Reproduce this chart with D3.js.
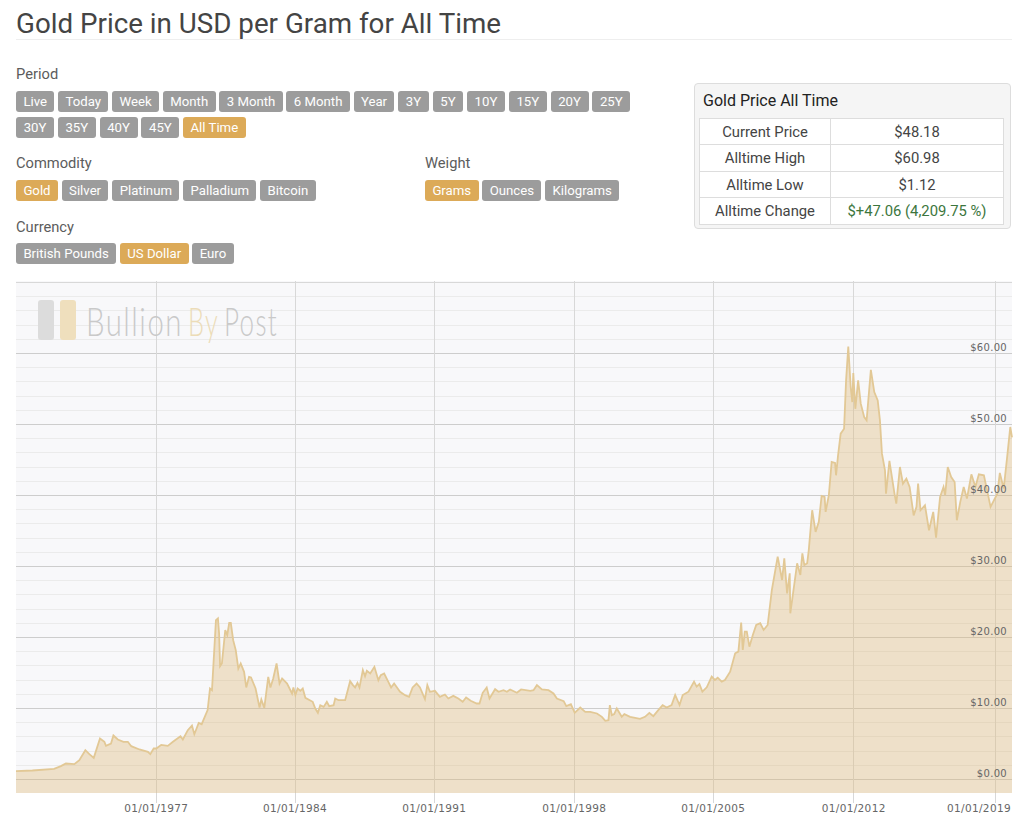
<!DOCTYPE html>
<html>
<head>
<meta charset="utf-8">
<script src="https://cdn.jsdelivr.net/npm/d3@7"></script>
<style>
  html, body { margin: 0; padding: 0; background: #fff; overflow: hidden; }
  body { width: 1024px; height: 819px; position: relative; font-family: Roboto, sans-serif; color: #555; }
  h1 { position: absolute; left: 16px; top: 7px; margin: 0; font-size: 27.75px; font-weight: 400; line-height: 34px; color: #444; }
  .rule { position: absolute; left: 16px; top: 39px; width: 996px; height: 1px; background: #eee; }
  .label { position: absolute; font-size: 14.7px; line-height: 18px; color: #5c5c5c; }
  .group { position: absolute; display: flex; flex-wrap: wrap; gap: 4.6px 3.75px; }
  .btn { height: 21px; line-height: 21px; padding: 0 7.4px; font-size: 13.2px; color: #fff; background: #9c9c9c; border-radius: 3px; white-space: nowrap; }
  .btn.yr { padding: 0 7.65px; }
  .btn.on { background: #dcaa58; }
  .panel { position: absolute; left: 694px; top: 83px; width: 315px; height: 144px; background: #f5f5f5; border: 1px solid #ddd; border-radius: 4px; }
  .panel h3 { position: absolute; left: 8px; top: 7px; margin: 0; font-size: 16px; font-weight: 400; line-height: 20px; color: #222; }
  table { position: absolute; left: 4px; top: 34px; width: 305px; border-collapse: collapse; background: #fff; font-size: 14.8px; color: #444; table-layout: fixed; }
  td { border: 1px solid #ddd; text-align: center; padding: 0; }
  td:first-child { width: 130px; }
  .up { color: #3c763d; }
  #chart { position: absolute; left: 0; top: 0; }
</style>
</head>
<body>
<script>
const titleText = 'Gold Price in USD per Gram for All Time';
const periods = ['Live', 'Today', 'Week', 'Month', '3 Month', '6 Month', 'Year', '3Y', '5Y', '10Y', '15Y', '20Y', '25Y', '30Y', '35Y', '40Y', '45Y', 'All Time'];
const commodities = ['Gold', 'Silver', 'Platinum', 'Palladium', 'Bitcoin'];
const weights = ['Grams', 'Ounces', 'Kilograms'];
const currencies = ['British Pounds', 'US Dollar', 'Euro'];
const statNames = ['Current Price', 'Alltime High', 'Alltime Low', 'Alltime Change'];
const statValues = ['$48.18', '$60.98', '$1.12', '$+47.06 (4,209.75 %)'];

// decimal year and USD per gram
const years = [
  1970.0, 1970.82, 1971.9, 1972.24, 1972.49, 1972.91, 1973.16, 1973.46, 1973.66, 1973.88,
  1974.19, 1974.41, 1974.49, 1974.74, 1974.86, 1975.08, 1975.36, 1975.58, 1975.75, 1976.16,
  1976.58, 1976.7, 1976.87, 1977.0, 1977.25, 1977.58, 1977.84, 1978.22, 1978.34, 1978.59,
  1978.8, 1978.92, 1979.14, 1979.29, 1979.59, 1979.71, 1979.81, 1980.01, 1980.11, 1980.17,
  1980.22, 1980.31, 1980.48, 1980.58, 1980.68, 1980.76, 1980.88, 1981.01, 1981.14, 1981.26,
  1981.43, 1981.54, 1981.68, 1981.78, 1982.01, 1982.21, 1982.3, 1982.45, 1982.65, 1982.76,
  1982.9, 1983.07, 1983.22, 1983.35, 1983.6, 1983.85, 1983.92, 1984.02, 1984.13, 1984.27,
  1984.39, 1984.52, 1984.89, 1985.02, 1985.15, 1985.27, 1985.44, 1985.6, 1985.72, 1985.94,
  1986.02, 1986.19, 1986.52, 1986.77, 1986.91, 1987.02, 1987.14, 1987.24, 1987.41, 1987.52,
  1987.61, 1987.78, 1987.99, 1988.19, 1988.31, 1988.48, 1988.69, 1988.83, 1988.98, 1989.28,
  1989.53, 1989.73, 1989.91, 1990.11, 1990.28, 1990.53, 1990.65, 1990.78, 1991.03, 1991.28,
  1991.53, 1991.7, 1991.95, 1992.2, 1992.42, 1992.59, 1992.82, 1993.12, 1993.26, 1993.42,
  1993.62, 1993.76, 1994.04, 1994.21, 1994.46, 1994.63, 1994.79, 1995.13, 1995.34, 1995.8,
  1995.96, 1996.13, 1996.38, 1996.71, 1996.96, 1997.13, 1997.47, 1997.6, 1997.83, 1998.02,
  1998.3, 1998.55, 1998.8, 1999.14, 1999.39, 1999.56, 1999.72, 1999.79, 1999.89, 2000.01,
  2000.14, 2000.39, 2000.52, 2000.81, 2001.31, 2001.56, 2001.78, 2001.98, 2002.23, 2002.45,
  2002.65, 2002.9, 2003.08, 2003.3, 2003.46, 2003.75, 2004.03, 2004.16, 2004.3, 2004.45,
  2004.67, 2004.92, 2005.08, 2005.22, 2005.42, 2005.58, 2005.84, 2006.09, 2006.25, 2006.39,
  2006.47, 2006.57, 2006.67, 2006.8, 2006.97, 2007.14, 2007.34, 2007.51, 2007.71, 2007.92,
  2008.21, 2008.43, 2008.54, 2008.68, 2008.81, 2008.84, 2009.18, 2009.34, 2009.44, 2009.54,
  2009.68, 2009.76, 2009.93, 2010.1, 2010.26, 2010.4, 2010.55, 2010.6, 2010.76, 2010.9,
  2011.07, 2011.12, 2011.22, 2011.35, 2011.52, 2011.62, 2011.73, 2011.85, 2011.93, 2011.98,
  2012.08, 2012.22, 2012.35, 2012.52, 2012.64, 2012.85, 2013.02, 2013.19, 2013.3, 2013.4,
  2013.55, 2013.6, 2013.77, 2014.02, 2014.11, 2014.29, 2014.44, 2014.61, 2014.77, 2014.97,
  2015.11, 2015.19, 2015.31, 2015.53, 2015.73, 2015.94, 2016.08, 2016.28, 2016.45, 2016.53,
  2016.66, 2016.83, 2017.0, 2017.11, 2017.28, 2017.45, 2017.61, 2017.83, 2018.03, 2018.2,
  2018.45, 2018.78, 2019.12, 2019.25, 2019.45, 2019.62, 2019.79, 2019.88
];
const prices = [
  1.17, 1.27, 1.5, 1.88, 2.25, 2.16, 2.72, 4.13, 3.57, 3.05,
  5.77, 5.31, 4.74, 5.07, 6.2, 5.63, 5.31, 5.31, 4.69, 4.23,
  3.9, 3.57, 4.37, 4.37, 4.88, 4.74, 5.31, 6.1, 5.63, 6.95,
  7.61, 6.38, 7.98, 7.79, 9.77, 12.82, 12.58, 22.44, 22.68, 20.56,
  15.96, 16.34, 21.03, 20.33, 22.07, 22.07, 19.62, 18.22, 15.63, 16.34,
  15.16, 12.96, 14.46, 14.37, 12.82, 10.14, 11.27, 10.09, 14.46, 12.96,
  14.23, 16.34, 13.52, 14.23, 13.52, 12.11, 12.96, 11.88, 12.82, 12.49,
  12.82, 11.5, 10.94, 10.0, 9.39, 10.47, 10.23, 10.94, 10.33, 10.47,
  11.41, 11.17, 11.17, 13.85, 13.29, 12.96, 13.62, 12.96, 15.4, 14.55,
  15.31, 14.93, 15.87, 13.99, 14.69, 14.93, 13.76, 12.96, 13.52, 12.35,
  11.88, 11.64, 12.96, 13.52, 12.96, 11.31, 13.29, 12.35, 12.49, 11.64,
  11.97, 11.41, 11.78, 11.41, 10.94, 11.55, 11.08, 10.7, 10.7, 12.21,
  12.96, 11.41, 12.72, 12.35, 12.58, 12.35, 12.68, 12.21, 12.68, 12.49,
  12.58, 13.29, 12.68, 12.58, 12.11, 11.41, 11.03, 10.33, 10.61, 9.39,
  10.14, 9.53, 9.53, 9.3, 8.83, 8.26, 8.36, 10.47, 9.06, 9.2,
  10.0, 8.83, 9.2, 8.83, 8.54, 8.83, 9.39, 8.92, 9.77, 10.47,
  10.14, 10.47, 11.9, 10.49, 11.9, 12.37, 13.78, 13.08, 13.45, 12.37,
  12.98, 14.48, 14.02, 14.34, 13.78, 14.02, 15.19, 17.77, 18.01, 22.09,
  18.24, 20.82, 20.82, 18.71, 20.35, 21.76, 22.0, 21.06, 21.76, 26.69,
  31.38, 28.1, 31.15, 26.22, 29.04, 23.4, 30.45, 28.8, 31.85, 30.2,
  30.45, 32.3, 37.92, 34.87, 36.28, 39.93, 39.8, 37.68, 40.03, 44.72,
  44.58, 42.84, 45.65, 48.7, 49.4, 56.2, 60.98, 55.27, 53.15, 57.23,
  52.2, 56.2, 52.92, 51.05, 50.58, 57.7, 54.56, 53.39, 50.58, 45.89,
  43.54, 40.26, 44.86, 40.26, 38.86, 44.01, 41.67, 42.37, 41.2, 37.2,
  38.39, 41.67, 37.92, 38.62, 35.1, 37.68, 34.07, 39.79, 41.2, 40.03,
  44.01, 42.6, 41.9, 36.51, 39.09, 41.2, 39.56, 42.98, 41.2, 42.98,
  42.84, 38.39, 40.26, 43.17, 40.97, 45.19, 49.64, 48.18
];
const tickYears = [1977, 1984, 1991, 1998, 2005, 2012, 2019];
const majorTicks = [0, 10, 20, 30, 40, 50, 60];
const minorTicks = d3.range(0, 72, 2);

const body = d3.select('body');

// chart goes in first so the page controls sit above it
const svg = body.append('svg').attr('id', 'chart').attr('width', 1024).attr('height', 819);

body.append('h1').text(titleText);
body.append('div').attr('class', 'rule');

function addLabel(text, x, y) {
  body.append('div').attr('class', 'label').style('left', x + 'px').style('top', y + 'px').text(text);
}
function addButtons(names, active, x, y, width) {
  body.append('div').attr('class', 'group')
    .style('left', x + 'px').style('top', y + 'px').style('width', width + 'px')
    .selectAll('div').data(names).join('div')
    .attr('class', d => 'btn' + (d === active ? ' on' : '') + (/\dY$/.test(d) ? ' yr' : ''))
    .text(d => d);
}

addLabel('Period', 16, 65);
addButtons(periods, 'All Time', 16, 91, 630);
addLabel('Commodity', 16, 154);
addButtons(commodities, 'Gold', 16, 180, 380);
addLabel('Weight', 425, 154);
addButtons(weights, 'Grams', 425, 180, 300);
addLabel('Currency', 16, 218);
addButtons(currencies, 'US Dollar', 16, 243, 380);

// stats panel, table rows snap to whole pixels so alternate 26/27
const panel = body.append('div').attr('class', 'panel');
panel.append('h3').text('Gold Price All Time');
const rows = panel.append('table').selectAll('tr').data(statNames).join('tr')
  .style('height', (d, i) => (i % 2 ? 27 : 26) + 'px');
rows.append('td').text(d => d);
rows.append('td').attr('class', (d, i) => i === 3 ? 'up' : null).text((d, i) => statValues[i]);

// chart scales, the source axis is slightly uneven so x is pinned at each tick year
const x = d3.scaleLinear()
  .domain([1970, ...tickYears, 2019.88])
  .range([16, 156.3, 295, 434.3, 574.3, 713.3, 853.7, 995, 1012]);
const y = d3.scaleLinear().domain([-1.9, 70.2]).range([793, 281]);
const series = years.map((d, i) => ({ year: d, price: prices[i] }));
const snap = v => Math.floor(v) + 0.5;

svg.append('rect').attr('x', 16).attr('y', 281).attr('width', 996).attr('height', 512).attr('fill', '#f8f8fa');

svg.append('g').selectAll('line').data(minorTicks).join('line')
  .attr('x1', 16).attr('x2', 1012)
  .attr('y1', d => snap(y(d))).attr('y2', d => snap(y(d)))
  .attr('stroke', d => d === 70 ? '#d8d8d8' : '#ebebeb');

svg.append('g').selectAll('line').data(majorTicks).join('line')
  .attr('x1', 16).attr('x2', 1012)
  .attr('y1', d => snap(y(d))).attr('y2', d => snap(y(d)))
  .attr('stroke', '#cdcdcd');

// x axis with the long ticks running up the plot
const xAxis = d3.axisBottom(x).tickValues(tickYears).tickFormat(d => '01/01/' + d).tickSize(522).tickPadding(2).offset(0);
const xg = svg.append('g').attr('transform', 'translate(0,281)').call(xAxis);
xg.select('.domain').remove();
xg.selectAll('line').attr('stroke', '#d8d8d8').attr('x1', d => snap(x(d)) - x(d)).attr('x2', d => snap(x(d)) - x(d));
xg.selectAll('text').attr('fill', '#666').attr('font-family', 'DejaVu Sans').attr('font-size', 10.5).attr('letter-spacing', 0.35);
// last label would run off the plot, pull it back
xg.selectAll('text').filter(d => d === 2019).attr('text-anchor', 'end').attr('x', 16);

// watermark, each word squeezed to its width with a transform
const logo = svg.append('g');
logo.append('rect').attr('x', 38).attr('y', 300).attr('width', 16).attr('height', 40).attr('rx', 3).attr('fill', '#dcdcdc');
logo.append('rect').attr('x', 60).attr('y', 300).attr('width', 16).attr('height', 40).attr('rx', 3).attr('fill', '#efdfbd');
function addMark(text, left, width, fill) {
  const t = logo.append('text')
    .attr('font-family', 'Lato').attr('font-weight', 300).attr('font-size', 39)
    .attr('letter-spacing', 2).attr('fill', fill).text(text);
  const sx = width / t.node().getComputedTextLength();
  t.attr('transform', `translate(${left},336) scale(${sx},1)`);
}
addMark('Bullion', 86, 97, '#c9c9c9');
addMark('By', 188, 31, '#ecdcb8');
addMark('Post', 224, 54, '#c9c9c9');

const area = d3.area().x(d => x(d.year)).y0(y.range()[0]).y1(d => y(d.price));
const line = d3.line().x(d => x(d.year)).y(d => y(d.price));

svg.append('path').datum(series).attr('d', area).attr('fill', '#dcb878').attr('fill-opacity', 0.38);
svg.append('path').datum(series).attr('d', line).attr('fill', 'none').attr('stroke', '#e2c895').attr('stroke-width', 1.8);

// y labels sit inside the plot at the right edge
svg.append('g').selectAll('text').data(majorTicks).join('text')
  .attr('x', 1007).attr('y', d => y(d) - 2.5)
  .attr('text-anchor', 'end')
  .attr('fill', '#666').attr('font-family', 'DejaVu Sans').attr('font-size', 10).attr('letter-spacing', 0.3)
  .text(d => '$' + d.toFixed(2));
</script>
</body>
</html>
